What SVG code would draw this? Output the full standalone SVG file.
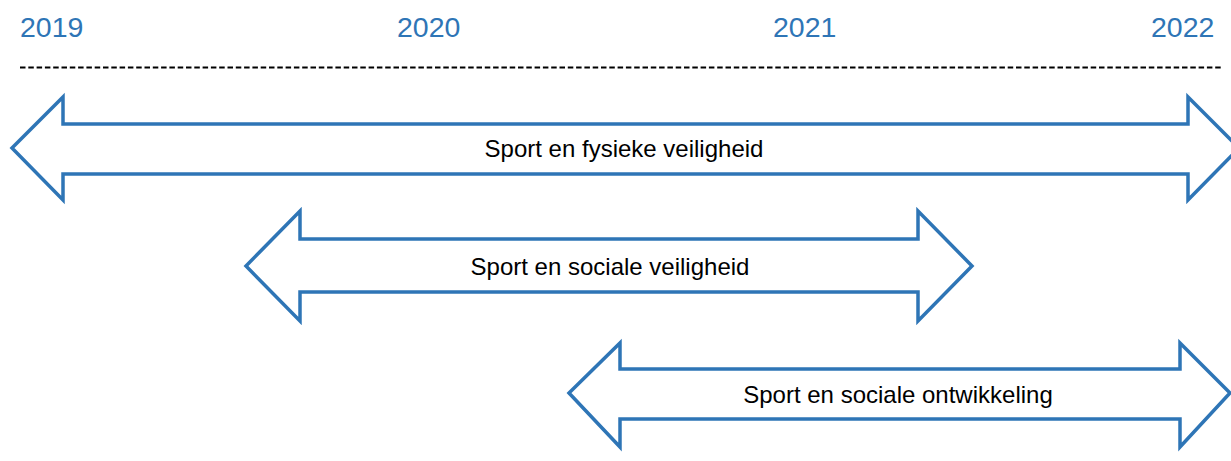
<svg xmlns="http://www.w3.org/2000/svg" width="1231" height="461" viewBox="0 0 1231 461">
<style>
.yr{font-family:"Liberation Sans",Arial,sans-serif;font-size:28.5px;fill:#2E75B6}
.lbl{font-family:"Liberation Sans",Arial,sans-serif;font-size:24px;fill:#000;text-anchor:middle}
.arr{fill:#fff;stroke:#2E75B6;stroke-width:3.5;stroke-linejoin:miter}
</style>
<rect width="1231" height="461" fill="#fff"/>
<g id="axis">
<text class="yr" x="20" y="37">2019</text>
<text class="yr" x="397" y="37">2020</text>
<text class="yr" x="773" y="37">2021</text>
<text class="yr" x="1151" y="37">2022</text>
<line x1="20" y1="67.5" x2="1221" y2="67.5" stroke="#000" stroke-width="2" stroke-dasharray="5.5,2.8"/>
</g>
<g id="arrow1">
<polygon class="arr" points="12,148 63,97 63,124 1188,124 1188,97 1239,148 1188,200 1188,174 63,174 63,200"/>
<text class="lbl" x="624" y="157">Sport en fysieke veiligheid</text>
</g>
<g id="arrow2">
<polygon class="arr" points="246,266 300,211 300,239 918,239 918,211 972,266 918,321 918,292 300,292 300,321"/>
<text class="lbl" x="610" y="275">Sport en sociale veiligheid</text>
</g>
<g id="arrow3">
<polygon class="arr" points="569,393 620,343 620,369 1180,369 1180,343 1230,393 1180,447 1180,419 620,419 620,447"/>
<text class="lbl" x="898" y="403">Sport en sociale ontwikkeling</text>
</g>
</svg>
